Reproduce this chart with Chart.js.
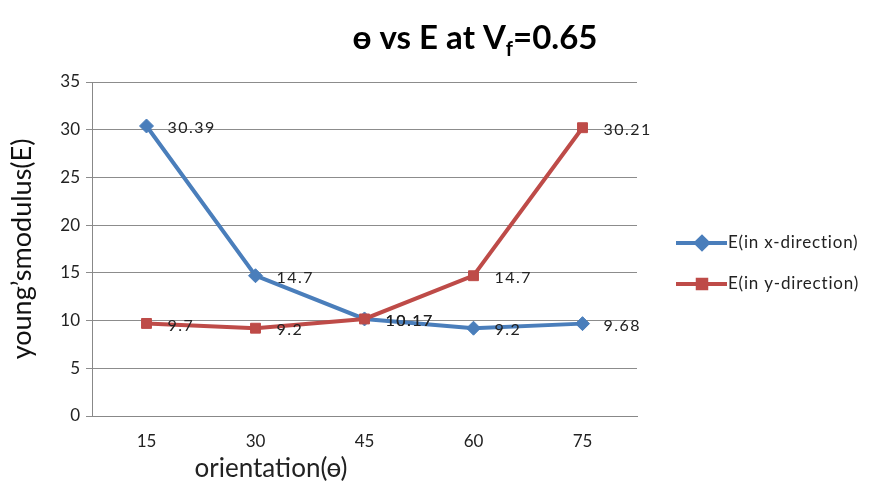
<!DOCTYPE html>
<html>
<head>
<meta charset="utf-8">
<script src="https://cdn.jsdelivr.net/npm/chart.js@4"></script>
<style>
  html, body { margin: 0; padding: 0; background: #fff; }
  #wrap { width: 876px; height: 487px; }
</style>
</head>
<body>
<div id="wrap"><canvas id="myChart"></canvas></div>
<script>
const orientation = ['15', '30', '45', '60', '75'];
const eX = [30.39, 14.7, 10.17, 9.2, 9.68];
const eY = [9.7, 9.2, 10.17, 14.7, 30.21];
const labelsX = ['30.39', '14.7', '10.17', '9.2', '9.68'];
const labelsY = ['9.7', '9.2', '10.17', '14.7', '30.21'];
const seriesNames = ['E(in x-direction)', 'E(in y-direction)'];

const FONT = 'Lato, "Open Sans", sans-serif';
const blue = '#4a7ebb';
const red = '#be4b48';

// titulo con subindice, etiquetas de datos, leyenda y titulo del eje x
const extras = {
    id: 'extras',
    afterDatasetsDraw(chart) {
        const ctx = chart.ctx;
        ctx.save();

        // etiquetas de datos
        ctx.font = '16px ' + FONT;
        ctx.letterSpacing = '1.5px';
        ctx.fillStyle = '#222';
        ctx.textBaseline = 'middle';
        ctx.textAlign = 'left';
        [labelsX, labelsY].forEach((labs, i) => {
            const meta = chart.getDatasetMeta(i);
            meta.data.forEach((pt, j) => {
                ctx.fillText(labs[j], pt.x + 21, pt.y + 2);
            });
        });
        ctx.letterSpacing = '0px';

        // titulo
        const cx = 475, cy = 37;
        const p1 = 'ɵ vs E at V', sub = 'f', p2 = '=0.65';
        ctx.font = 'bold 33px ' + FONT;
        const w1 = ctx.measureText(p1).width;
        const w3 = ctx.measureText(p2).width;
        ctx.font = 'bold 20px ' + FONT;
        const w2 = ctx.measureText(sub).width;
        let x = cx - (w1 + w2 + w3) / 2;
        ctx.fillStyle = '#000';
        ctx.textBaseline = 'alphabetic';
        ctx.font = 'bold 33px ' + FONT;
        ctx.fillText(p1, x, cy + 12);
        x += w1;
        ctx.font = 'bold 20px ' + FONT;
        ctx.fillText(sub, x, cy + 19);
        x += w2;
        ctx.font = 'bold 33px ' + FONT;
        ctx.fillText(p2, x, cy + 12);

        // titulo eje x
        ctx.font = '26px ' + FONT;
        ctx.textAlign = 'center';
        ctx.textBaseline = 'middle';
        ctx.fillStyle = '#222';
        ctx.fillText('orientation(ɵ)', 271, 469);

        // leyenda
        const colors = [blue, red];
        const styles = ['rectRot', 'rect'];
        ctx.font = '17px ' + FONT;
        ctx.letterSpacing = '0.8px';
        ctx.textAlign = 'left';
        seriesNames.forEach((name, i) => {
            const ly = 243 + i * 41;
            const lx = 676;
            ctx.strokeStyle = colors[i];
            ctx.lineWidth = 4;
            ctx.beginPath();
            ctx.moveTo(lx, ly);
            ctx.lineTo(lx + 51, ly);
            ctx.stroke();
            ctx.fillStyle = colors[i];
            Chart.helpers.drawPoint(ctx, { pointStyle: styles[i], radius: 6, borderWidth: 1 }, lx + 26, ly);
            ctx.fillStyle = '#222';
            ctx.fillText(name, lx + 52, ly);
        });

        ctx.restore();
    }
};

const chart = new Chart(document.querySelector('#myChart'), {
    type: 'line',
    data: {
        labels: orientation,
        datasets: [{
            label: seriesNames[0],
            data: eX,
            borderColor: blue,
            backgroundColor: blue,
            borderWidth: 4,
            pointStyle: 'rectRot',
            pointRadius: 7,
            pointBorderWidth: 1,
            order: 1
        }, {
            label: seriesNames[1],
            data: eY,
            borderColor: red,
            backgroundColor: red,
            borderWidth: 4,
            pointStyle: 'rect',
            pointRadius: 7,
            pointBorderWidth: 1,
            order: 0
        }]
    },
    options: {
        responsive: true,
        maintainAspectRatio: false,
        animation: false,
        layout: { padding: { left: 0, right: 239, top: 82, bottom: 0 } },
        plugins: {
            legend: { display: false },
            title: { display: false },
            tooltip: { enabled: false }
        },
        scales: {
            x: {
                offset: true,
                grid: { display: false, drawTicks: false },
                border: { color: '#888' },
                ticks: { color: '#222', font: { size: 17, family: FONT }, padding: 15 },
                afterFit: (s) => { s.height = 71; }
            },
            y: {
                min: 0,
                max: 35,
                ticks: { stepSize: 5, color: '#222', font: { size: 17, family: FONT }, padding: 6 },
                grid: { color: '#8c8c8c', tickLength: 6 },
                border: { color: '#888' },
                title: {
                    display: true,
                    text: 'young\u2019smodulus(E)',
                    color: '#111',
                    font: { size: 27, family: FONT },
                    padding: { top: 6, bottom: 0 }
                },
                afterFit: (s) => { s.width = 92; }
            }
        }
    },
    plugins: [extras]
});
</script>
</body>
</html>
